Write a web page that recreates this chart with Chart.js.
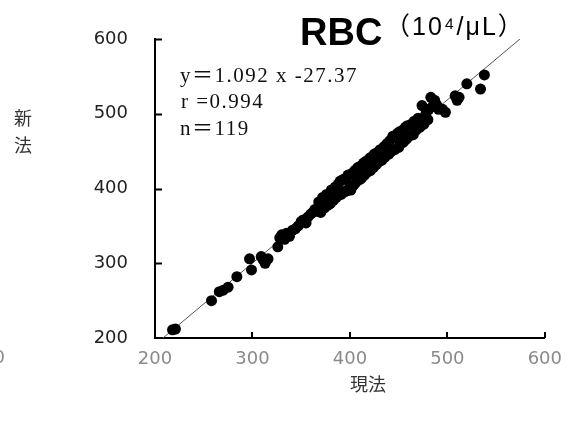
<!DOCTYPE html>
<html>
<head>
<meta charset="utf-8">
<script src="https://cdn.jsdelivr.net/npm/chart.js@4"></script>
<style>
  body { margin: 0; background: #fff; }
  #wrap { width: 573px; height: 423px; }
</style>
</head>
<body>
<div id="wrap"><canvas id="canvas" width="573" height="423"></canvas></div>
<script>
// 現法 (x) vs 新法 (y), RBC 10^4/uL
const currentMethod = [
  218, 221, 258, 266, 270, 275, 284, 297, 299, 309, 313, 316, 311, 326, 328,
  330, 333, 335, 338, 341, 344, 347, 350, 352, 355, 357, 360, 362, 364, 366,
  368, 370, 372, 374, 376, 378, 380, 381, 383, 385, 386, 388, 390, 391, 392,
  393, 395, 396, 397, 398, 400, 401, 402, 403, 404, 405, 406, 408, 409, 410,
  411, 412, 414, 415, 416, 418, 420, 421, 422, 424, 425, 427, 428, 430, 431,
  433, 435, 436, 438, 440, 441, 443, 444, 446, 447, 449, 450, 451, 452, 454,
  455, 457, 458, 459, 461, 463, 465, 466, 468, 470, 472, 474, 476, 478, 480,
  481, 483, 485, 487, 489, 491, 495, 498, 508, 510, 512, 520, 534, 538
];
const newMethod = [
  211, 212, 250, 262, 264, 268, 282, 306, 291, 309, 300, 306, 305, 322, 334,
  338, 332, 340, 336, 344, 346, 350, 356, 358, 354, 362, 366, 368, 372, 370,
  382, 368, 388, 374, 392, 378, 380, 398, 384, 402, 388, 406, 410, 392, 394,
  412, 396, 414, 397, 418, 402, 398, 420, 404, 405, 424, 408, 428, 428, 412,
  430, 414, 434, 418, 436, 422, 440, 424, 442, 428, 446, 432, 448, 436, 452,
  438, 456, 442, 460, 446, 464, 450, 470, 452, 468, 474, 455, 476, 460, 478,
  462, 482, 466, 484, 470, 486, 472, 490, 478, 494, 482, 511, 486, 500, 492,
  506, 522, 510, 518, 512, 506, 506, 502, 524, 518, 522, 540, 533, 552
];

const slope = 1.092;
const intercept = -27.37;
const fitX = [208.2, 574.5];

const axisTicks = [200, 300, 400, 500, 600];

const points = currentMethod.map((x, i) => ({ x: x, y: newMethod[i] }));
const fitLine = fitX.map(x => ({ x: x, y: slope * x + intercept }));

// tick marks drawn inward from the axis lines
const innerTicks = {
  id: "innerTicks",
  afterDraw(chart) {
    const ctx = chart.ctx;
    const xs = chart.scales.x;
    const ys = chart.scales.y;
    ctx.save();
    ctx.strokeStyle = "#000";
    ctx.lineWidth = 2;
    ctx.beginPath();
    for (let v of axisTicks) {
      if (v === 200) continue;
      const px = Math.round(xs.getPixelForValue(v));
      ctx.moveTo(px, ys.bottom);
      ctx.lineTo(px, ys.bottom - 6);
      const py = Math.round(ys.getPixelForValue(v)) + 0.5;
      ctx.moveTo(xs.left, py);
      ctx.lineTo(xs.left + 7, py);
    }
    ctx.stroke();
    ctx.restore();
  }
};

const texts = {
  id: "texts",
  afterDraw(chart) {
    const ctx = chart.ctx;
    ctx.save();
    ctx.fillStyle = "#000";
    ctx.textBaseline = "alphabetic";
    ctx.textAlign = "left";
    ctx.font = "bold 38px 'Liberation Sans', Arial, sans-serif";
    ctx.fillText("RBC", 300, 45);
    ctx.font = "25px 'Liberation Sans', 'Noto Sans CJK JP', sans-serif";
    ctx.letterSpacing = "2px";
    ctx.fillText("（10⁴/μL）", 385, 35);

    ctx.fillStyle = "#111";
    ctx.font = "21px 'Liberation Serif', 'Noto Sans CJK JP', serif";
    ctx.letterSpacing = "1.5px";
    ctx.fillText("y＝1.092 x -27.37", 180, 82);
    ctx.fillText("r =0.994", 181, 108);
    ctx.fillText("n＝119", 180, 135);
    ctx.letterSpacing = "0px";

    // cut-off label from the neighbouring panel
    ctx.fillStyle = "#8a8a8a";
    ctx.font = "18px 'DejaVu Sans', sans-serif";
    ctx.textAlign = "right";
    ctx.textBaseline = "middle";
    ctx.fillText("600", 5, 358);

    ctx.fillStyle = "#333";
    ctx.font = "18px 'Noto Sans CJK JP', sans-serif";
    ctx.textAlign = "center";
    ctx.fillText("新", 23, 118);
    ctx.fillText("法", 23, 145);
    ctx.fillText("現法", 368, 384);
    ctx.restore();
  }
};

const ctx = document.getElementById("canvas").getContext("2d");

new Chart(ctx, {
  data: {
    datasets: [
      {
        type: "scatter",
        data: points,
        backgroundColor: "#000",
        borderWidth: 0,
        pointRadius: 5.5,
        pointHoverRadius: 5.5,
        order: 1
      },
      {
        type: "line",
        data: fitLine,
        borderColor: "#555",
        borderWidth: 1,
        pointRadius: 0,
        fill: false,
        order: 2
      }
    ]
  },
  options: {
    responsive: false,
    animation: false,
    events: [],
    layout: { padding: { left: 0, top: 39, right: 21, bottom: 0 } },
    plugins: {
      legend: { display: false },
      tooltip: { enabled: false },
      title: { display: false }
    },
    scales: {
      x: {
        type: "linear",
        min: 200,
        max: 600,
        afterBuildTicks: scale => {
          scale.ticks = axisTicks.map(v => ({ value: v }));
        },
        afterFit: scale => {
          scale.height = 85;
        },
        border: { color: "#000", width: 2 },
        grid: { drawOnChartArea: false, drawTicks: false },
        ticks: {
          padding: 11,
          color: "#8a8a8a",
          font: { family: "'DejaVu Sans'", size: 18 }
        }
      },
      y: {
        type: "linear",
        min: 200,
        max: 600,
        afterBuildTicks: scale => {
          scale.ticks = axisTicks.map(v => ({ value: v }));
        },
        afterFit: scale => {
          scale.width = 155;
        },
        border: { color: "#000", width: 2 },
        grid: { drawOnChartArea: false, drawTicks: false },
        ticks: {
          padding: 27,
          color: "#222",
          font: { family: "'DejaVu Sans'", size: 18 }
        }
      }
    }
  },
  plugins: [innerTicks, texts]
});
</script>
</body>
</html>
